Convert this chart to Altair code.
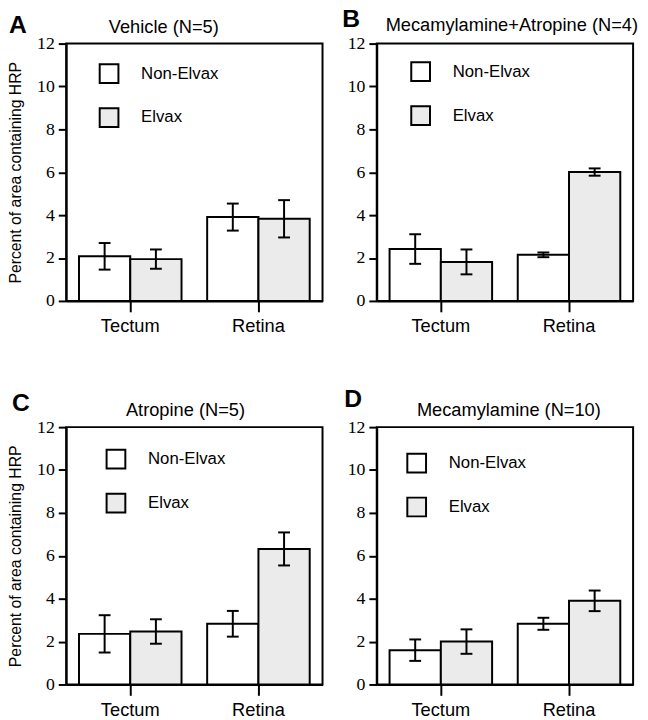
import altair as alt
import pandas as pd

panel_letters = ["A", "B", "C", "D"]
panel_titles = ["Vehicle (N=5)", "Mecamylamine+Atropine (N=4)", "Atropine (N=5)", "Mecamylamine (N=10)"]
regions = ["Tectum", "Retina"]
groups = ["Non-Elvax", "Elvax"]
y_ticks = [0, 2, 4, 6, 8, 10, 12]
y_title = "Percent of area containing HRP"

# values per panel as [Tectum, Retina]
nonelvax_mean = [[2.08, 3.91], [2.42, 2.15], [2.36, 2.83], [1.60, 2.83]]
nonelvax_err = [[0.62, 0.63], [0.69, 0.11], [0.87, 0.60], [0.50, 0.28]]
elvax_mean = [[1.95, 3.83], [1.82, 6.01], [2.47, 6.32], [2.00, 3.90]]
elvax_err = [[0.45, 0.87], [0.58, 0.17], [0.57, 0.77], [0.57, 0.48]]

# layout/style per panel (positions only, relative to each plot area)
panel_style = [
    dict(title_dx=-31, title_y=-11, letter_x=-58, letter_y=-11, legend_x=33, legend_y=20, ytitle=True),
    dict(title_dx=7, title_y=-13, letter_x=-35, letter_y=-17, legend_x=34, legend_y=18, ytitle=False),
    dict(title_dx=-9, title_y=-11, letter_x=-55, letter_y=-16, legend_x=40, legend_y=22, ytitle=True),
    dict(title_dx=4, title_y=-11, letter_x=-33, letter_y=-20, legend_x=30, legend_y=26, ytitle=False),
]

FILLS = ["white", "#ebebeb"]
W, H = 260, 261


def make_panel(i):
    st = panel_style[i]
    rows = []
    for j, r in enumerate(regions):
        for g, means, errs in (("Non-Elvax", nonelvax_mean, nonelvax_err), ("Elvax", elvax_mean, elvax_err)):
            m = means[i][j]
            e = errs[i][j]
            rows.append(dict(region=r, group=g, mean=m, lo=m - e, hi=m + e))
    df = pd.DataFrame(rows)
    base = alt.Chart(df)

    x_axis = alt.Axis(title=None, labelAngle=0)
    x = alt.X("region:N", sort=regions,
              scale=alt.Scale(paddingInner=0.2, paddingOuter=0.1), axis=x_axis)
    xo = alt.XOffset("group:N", sort=groups,
                     scale=alt.Scale(domain=groups, paddingInner=0, paddingOuter=0))
    yscale = alt.Scale(domain=[0, 12], nice=False)
    y_axis = alt.Axis(values=y_ticks, title=y_title if st["ytitle"] else None)

    bars = base.mark_bar(stroke="black", strokeWidth=2).encode(
        x=x, xOffset=xo,
        y=alt.Y("mean:Q", scale=yscale, axis=y_axis),
        fill=alt.Fill("group:N", sort=groups,
                      scale=alt.Scale(domain=groups, range=FILLS),
                      legend=alt.Legend(orient="none", legendX=st["legend_x"],
                                        legendY=st["legend_y"], title=None)),
    )
    err = base.mark_rule(color="black", strokeWidth=2).encode(
        x=x, xOffset=xo,
        y=alt.Y("lo:Q", scale=yscale, axis=y_axis), y2="hi:Q")
    cap_lo = base.mark_tick(color="black", thickness=2, size=12, opacity=1).encode(
        x=x, xOffset=xo, y=alt.Y("lo:Q", scale=yscale, axis=y_axis))
    cap_hi = base.mark_tick(color="black", thickness=2, size=12, opacity=1).encode(
        x=x, xOffset=xo, y=alt.Y("hi:Q", scale=yscale, axis=y_axis))
    letter = alt.Chart(pd.DataFrame({"t": [panel_letters[i]]})).mark_text(
        font="Liberation Sans", fontSize=25, fontWeight="bold", color="black",
        align="left", baseline="alphabetic",
    ).encode(text="t:N", x=alt.value(st["letter_x"]), y=alt.value(st["letter_y"]))
    title = alt.Chart(pd.DataFrame({"t": [panel_titles[i]]})).mark_text(
        font="Liberation Sans", fontSize=18.5, color="black",
        align="center", baseline="alphabetic",
    ).encode(text="t:N", x=alt.value(W / 2 + st["title_dx"]), y=alt.value(st["title_y"]))

    return alt.layer(bars, err, cap_lo, cap_hi, letter, title).properties(width=W, height=H)


chart = alt.concat(*[make_panel(i) for i in range(4)], columns=2,
                   spacing={"row": 128, "column": 55}, bounds="flush").resolve_scale(
    fill="independent").properties(padding={"left": -1, "top": -7, "right": 0, "bottom": 0}
).configure_view(stroke="black", strokeWidth=2).configure_axis(
    domainColor="black", domainWidth=2, tickColor="black", tickWidth=2, grid=False,
    labelColor="black", titleColor="black",
).configure_axisY(
    labelFont="Liberation Serif", labelFontSize=18, tickSize=8, labelPadding=4,
    titleFont="Liberation Sans", titleFontSize=16, titleFontWeight="normal", titlePadding=13,
).configure_axisX(
    labelFont="Liberation Sans", labelFontSize=18.5, tickSize=11, labelPadding=5,
).configure_legend(
    symbolType="square", symbolSize=361, symbolStrokeColor="black", symbolStrokeWidth=2,
    labelFont="Liberation Sans", labelFontSize=17, labelColor="black", labelOffset=22,
    rowPadding=17.5, symbolOpacity=1,
)

chart.save("out.html", embed_options={"renderer": "svg", "actions": False})
